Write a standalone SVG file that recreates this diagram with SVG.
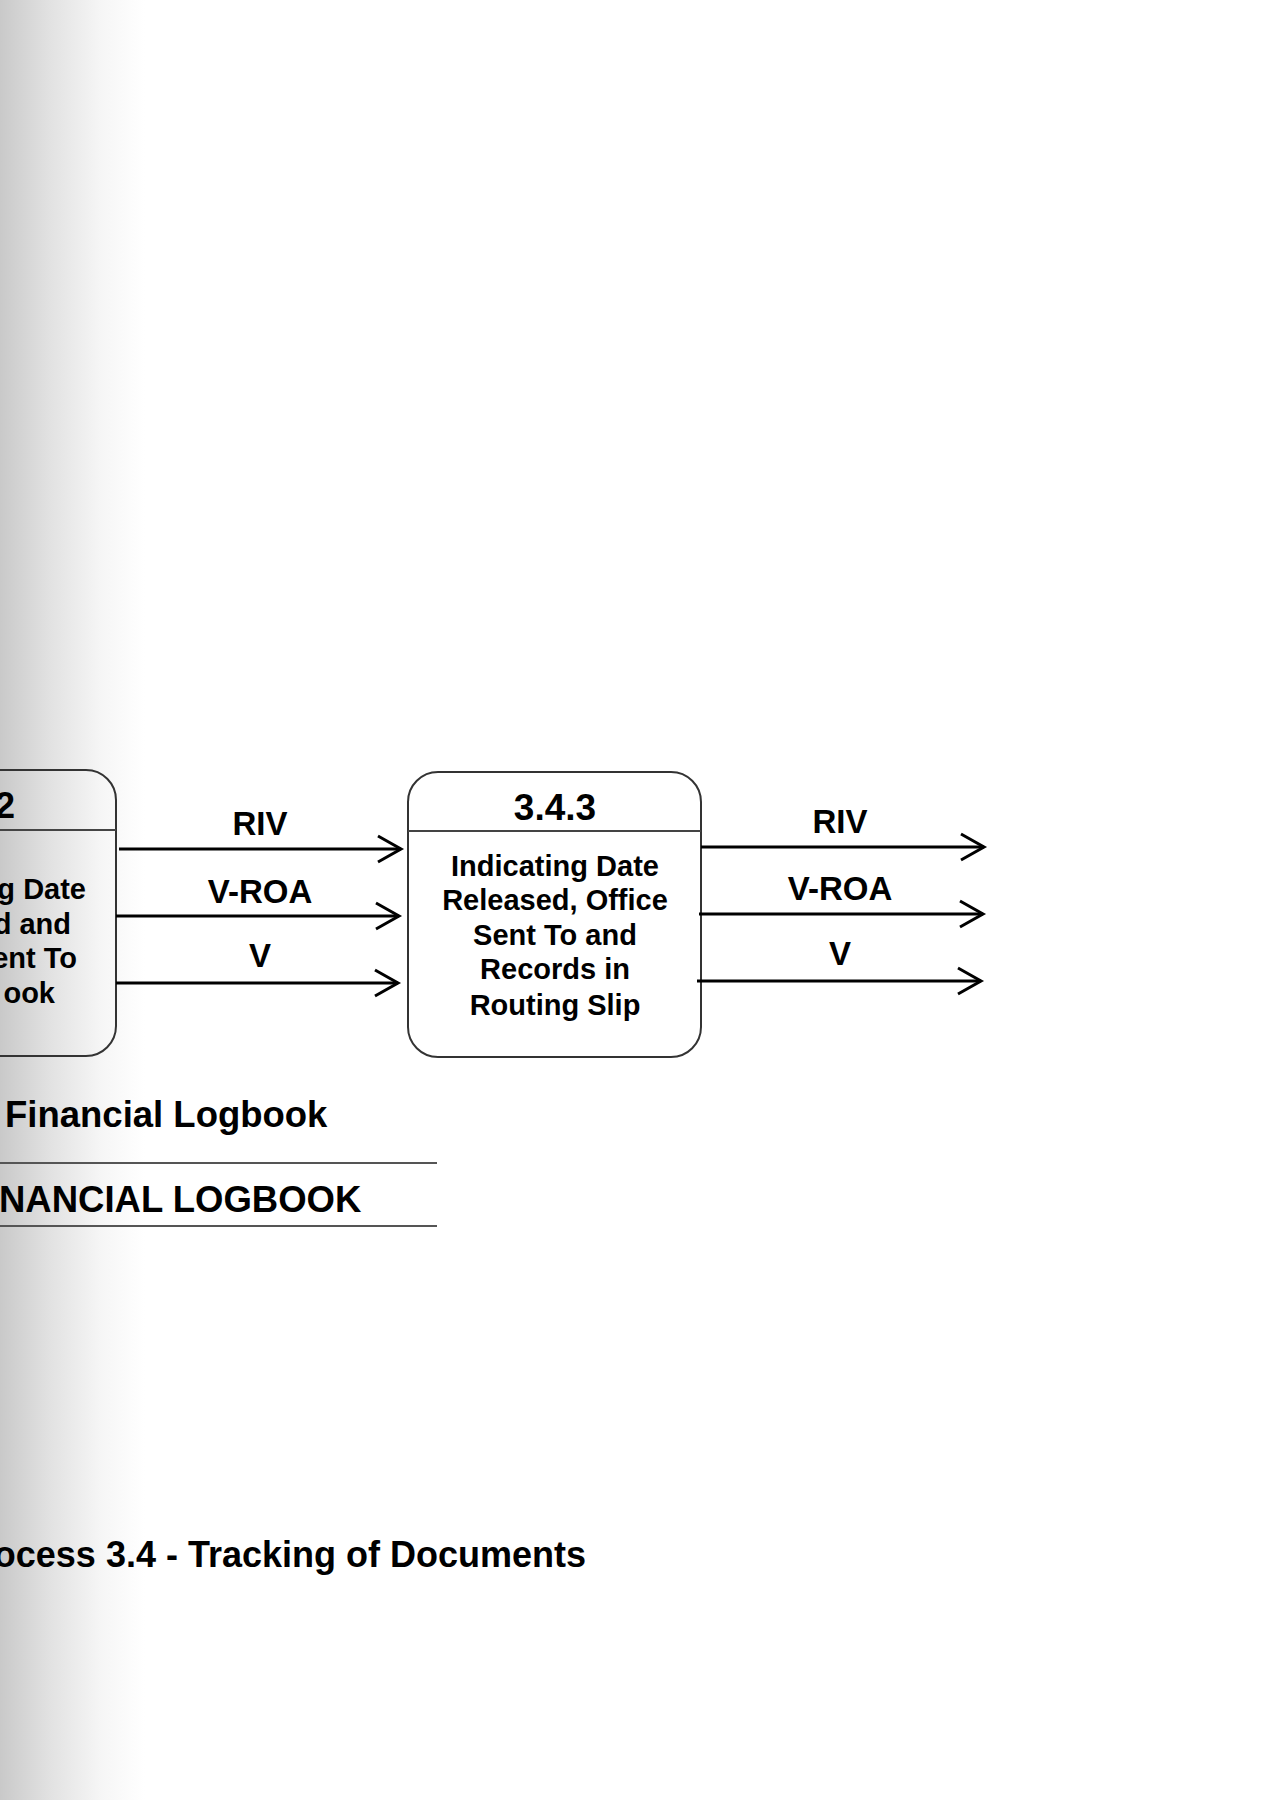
<svg xmlns="http://www.w3.org/2000/svg" width="1273" height="1800" viewBox="0 0 1273 1800">
<defs>
<linearGradient id="bg" x1="0" y1="0" x2="1" y2="0" gradientUnits="objectBoundingBox">
<stop offset="0" stop-color="#c9c9c9"/>
<stop offset="0.35" stop-color="#e2e2e2"/>
<stop offset="0.7" stop-color="#f6f6f6"/>
<stop offset="1" stop-color="#ffffff"/>
</linearGradient>
<marker id="arr" markerUnits="userSpaceOnUse" markerWidth="30" markerHeight="30" viewBox="-26 -15 30 30" refX="0" refY="0" orient="auto">
<path d="M-23,-13 L0,0 L-23,13" fill="none" stroke="#000" stroke-width="3"/>
</marker>
<style>
.t{font-family:"Liberation Sans",Arial,Helvetica,sans-serif;font-weight:bold;fill:#000}
.box{fill:none;stroke:#333;stroke-width:2}
.div{stroke:#444;stroke-width:2}
.flow{stroke:#000;stroke-width:3;fill:none;marker-end:url(#arr)}
.lbl{font-size:33px;text-anchor:middle}
.body{font-size:29px}
</style>
</defs>
<rect x="0" y="0" width="1273" height="1800" fill="#ffffff"/>
<rect x="0" y="0" width="145" height="1800" fill="url(#bg)"/>

<g id="node-3-4-2">
<rect class="box" x="-220" y="770" width="336" height="286" rx="30" ry="30"/>
<line class="div" x1="-220" y1="830" x2="116" y2="830"/>
<text class="t" x="15" y="818" font-size="36" text-anchor="end">2</text>
<text class="t body" text-anchor="end"><tspan x="86" y="899">g Date</tspan><tspan x="71" y="934">d and</tspan><tspan x="77" y="968">ent To</tspan><tspan x="55" y="1003">ook</tspan></text>
</g>

<g id="node-3-4-3">
<rect class="box" x="408" y="772" width="293" height="285" rx="30" ry="30"/>
<line class="div" x1="408" y1="831" x2="701" y2="831"/>
<text class="t" x="555" y="820" font-size="37" text-anchor="middle">3.4.3</text>
<text class="t body" text-anchor="middle"><tspan x="555" y="876">Indicating Date</tspan><tspan x="555" y="910">Released, Office</tspan><tspan x="555" y="945">Sent To and</tspan><tspan x="555" y="979">Records in</tspan><tspan x="555" y="1015">Routing Slip</tspan></text>
</g>

<g id="datastore-financial-logbook">
<text class="t" x="5" y="1127" font-size="36.5">Financial Logbook</text>
<line x1="0" y1="1163" x2="437" y2="1163" stroke="#555" stroke-width="2"/>
<text class="t" x="-1" y="1212" font-size="36.5">NANCIAL LOGBOOK</text>
<line x1="0" y1="1226" x2="437" y2="1226" stroke="#555" stroke-width="2"/>
</g>

<g id="connectors">
<line class="flow" x1="119" y1="849" x2="401" y2="849"/>
<line class="flow" x1="116" y1="916" x2="399" y2="916"/>
<line class="flow" x1="116" y1="983" x2="398" y2="983"/>
<line class="flow" x1="701" y1="847" x2="984" y2="847"/>
<line class="flow" x1="699" y1="914" x2="983" y2="914"/>
<line class="flow" x1="697" y1="981" x2="981" y2="981"/>
<text class="t lbl" x="260" y="835">RIV</text>
<text class="t lbl" x="260" y="903">V-ROA</text>
<text class="t lbl" x="260" y="967">V</text>
<text class="t lbl" x="840" y="833">RIV</text>
<text class="t lbl" x="840" y="900">V-ROA</text>
<text class="t lbl" x="840" y="965">V</text>
</g>

<g id="caption">
<text class="t" x="586" y="1567" font-size="36" text-anchor="end">ocess 3.4 - Tracking of Documents</text>
</g>
</svg>
